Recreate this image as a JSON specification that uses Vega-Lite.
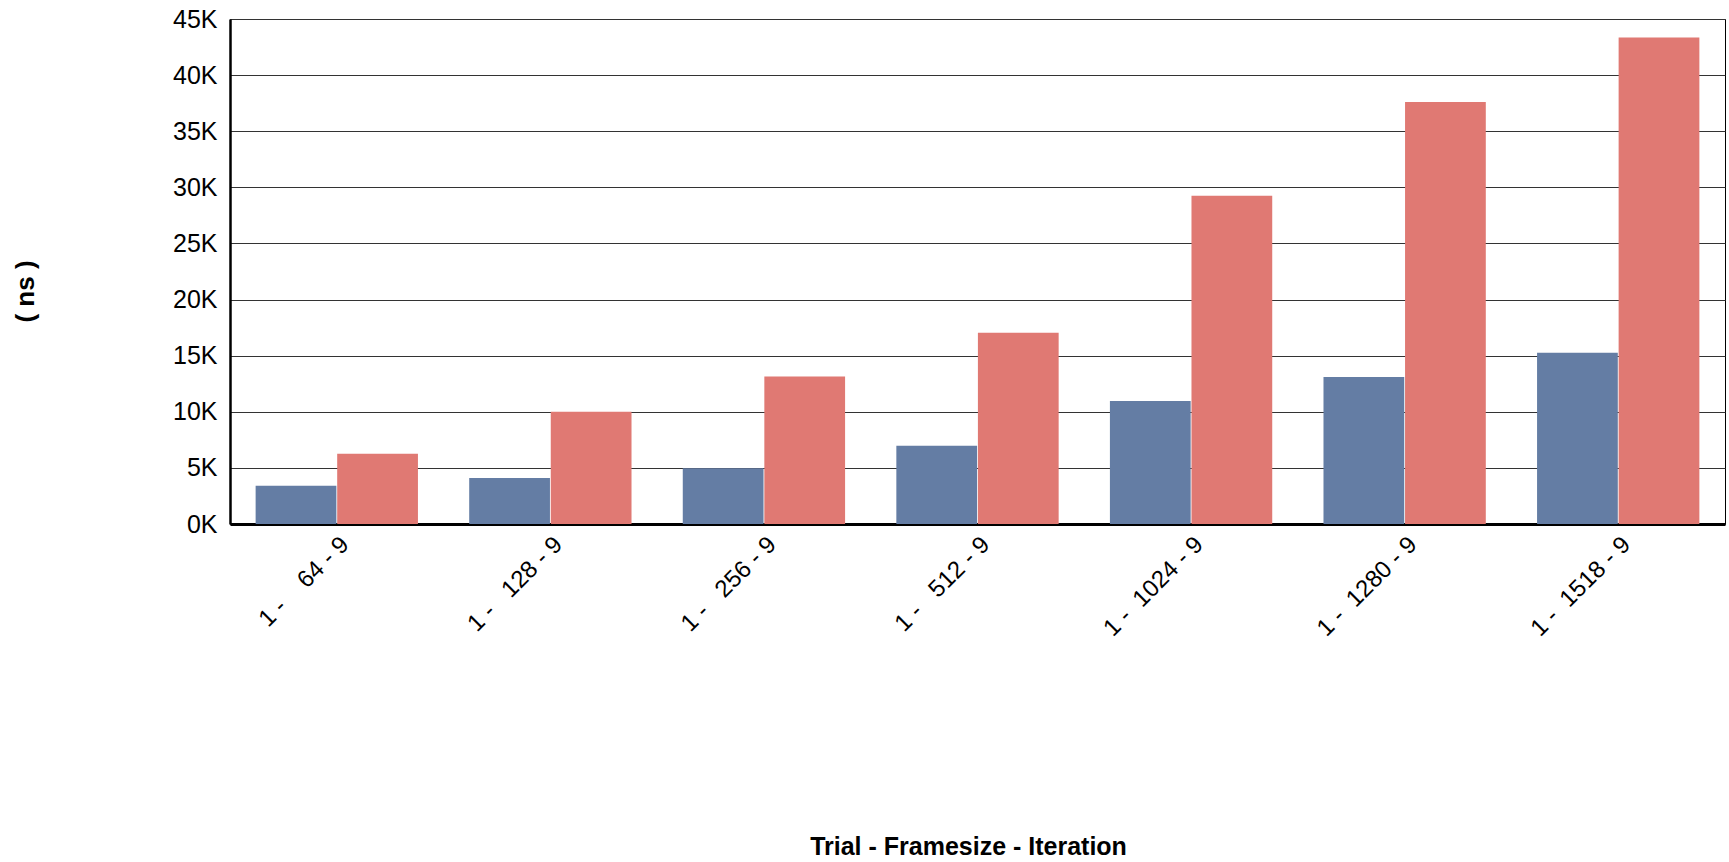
{
  "$schema": "https://vega.github.io/schema/vega-lite/v6.json",
  "width": 1495,
  "height": 505,
  "autosize": {"type": "none"},
  "padding": {"left": 230, "top": 19, "right": 4, "bottom": 338},
  "background": "white",
  "config": {
    "font": "Liberation Sans",
    "view": {"stroke": "black", "strokeWidth": 1}
  },
  "data": {
    "values": [
      {"label": "1 -\u00a0\u00a0\u00a0\u00a064 - 9", "series": "A", "ns": 3400},
      {"label": "1 -\u00a0\u00a0\u00a0\u00a064 - 9", "series": "B", "ns": 6250},
      {"label": "1 -\u00a0\u00a0\u00a0128 - 9", "series": "A", "ns": 4100},
      {"label": "1 -\u00a0\u00a0\u00a0128 - 9", "series": "B", "ns": 10000},
      {"label": "1 -\u00a0\u00a0\u00a0256 - 9", "series": "A", "ns": 4970},
      {"label": "1 -\u00a0\u00a0\u00a0256 - 9", "series": "B", "ns": 13150},
      {"label": "1 -\u00a0\u00a0\u00a0512 - 9", "series": "A", "ns": 6970},
      {"label": "1 -\u00a0\u00a0\u00a0512 - 9", "series": "B", "ns": 17050},
      {"label": "1 -\u00a0\u00a01024 - 9", "series": "A", "ns": 10970},
      {"label": "1 -\u00a0\u00a01024 - 9", "series": "B", "ns": 29250},
      {"label": "1 -\u00a0\u00a01280 - 9", "series": "A", "ns": 13100},
      {"label": "1 -\u00a0\u00a01280 - 9", "series": "B", "ns": 37600},
      {"label": "1 -\u00a0\u00a01518 - 9", "series": "A", "ns": 15250},
      {"label": "1 -\u00a0\u00a01518 - 9", "series": "B", "ns": 43350}
    ]
  },
  "mark": {"type": "bar"},
  "encoding": {
    "x": {
      "field": "label",
      "type": "nominal",
      "sort": null,
      "scale": {"paddingInner": 0.24, "paddingOuter": 0.12},
      "axis": {
        "title": "Trial - Framesize - Iteration",
        "titleFontSize": 25,
        "titleFontWeight": "bold",
        "titleColor": "black",
        "titleX": 738,
        "titleY": 322,
        "titleAlign": "center",
        "titleBaseline": "middle",
        "labelAngle": -45,
        "labelFontSize": 24,
        "labelColor": "black",
        "labelPadding": 8,
        "ticks": false,
        "domainColor": "black",
        "domainWidth": 3
      }
    },
    "xOffset": {"field": "series", "type": "nominal", "scale": {"paddingInner": 0.01}},
    "y": {
      "field": "ns",
      "type": "quantitative",
      "scale": {"domain": [0, 45000], "nice": false},
      "axis": {
        "title": "( ns )",
        "titleFontSize": 26,
        "titleFontWeight": "bold",
        "titleColor": "black",
        "titleX": -205,
        "titleY": 272,
        "titleAngle": -90,
        "titleAlign": "center",
        "titleBaseline": "middle",
        "values": [0, 5000, 10000, 15000, 20000, 25000, 30000, 35000, 40000, 45000],
        "labelExpr": "datum.value / 1000 + 'K'",
        "labelFontSize": 25,
        "labelColor": "black",
        "labelPadding": 13,
        "ticks": false,
        "domainColor": "black",
        "domainWidth": 2.5,
        "gridColor": "#333333",
        "gridWidth": 1,
        "gridOpacity": 1
      }
    },
    "color": {
      "field": "series",
      "type": "nominal",
      "scale": {"domain": ["A", "B"], "range": ["#647da4", "#e07973"]},
      "legend": null
    }
  }
}
